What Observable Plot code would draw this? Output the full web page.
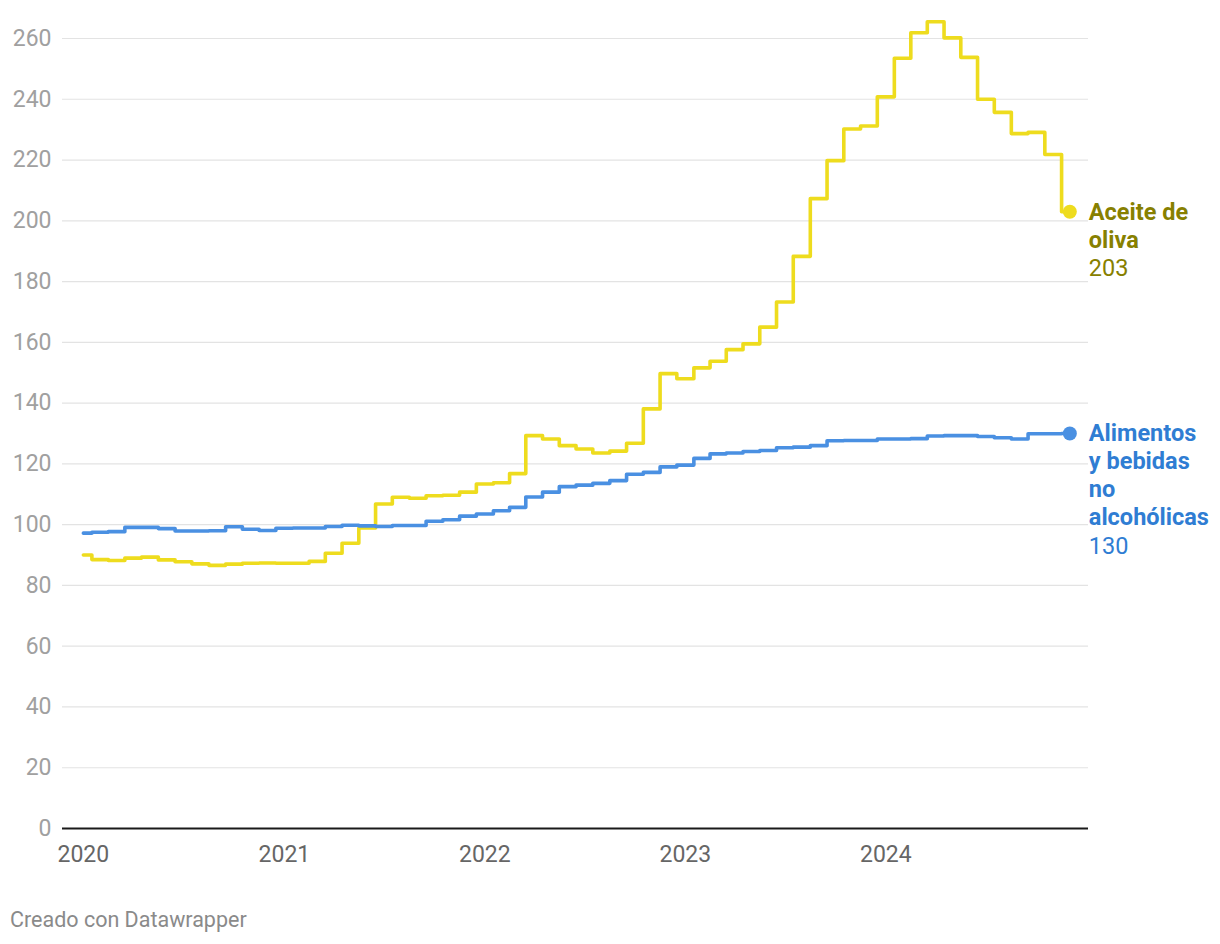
<!DOCTYPE html>
<html>
<head>
<meta charset="utf-8">
<script src="https://cdn.jsdelivr.net/npm/d3@7"></script>
<script src="https://cdn.jsdelivr.net/npm/@observablehq/plot@0.6"></script>
<style>
  html, body { margin: 0; padding: 0; background: #fff; }
  body { width: 1220px; height: 944px; position: relative; font-family: Roboto, "Noto Sans", sans-serif; }
  #chart { position: absolute; left: 0; top: 0; }
  #footer { position: absolute; left: 10px; top: 907px; font-size: 21.5px; color: #8a8a8a; font-family: Roboto, sans-serif; }
</style>
</head>
<body>
<div id="chart"></div>
<div id="footer">Creado con Datawrapper</div>
<script>
const months = [
  "2020-01","2020-02","2020-03","2020-04","2020-05","2020-06","2020-07","2020-08","2020-09","2020-10","2020-11","2020-12",
  "2021-01","2021-02","2021-03","2021-04","2021-05","2021-06","2021-07","2021-08","2021-09","2021-10","2021-11","2021-12",
  "2022-01","2022-02","2022-03","2022-04","2022-05","2022-06","2022-07","2022-08","2022-09","2022-10","2022-11","2022-12",
  "2023-01","2023-02","2023-03","2023-04","2023-05","2023-06","2023-07","2023-08","2023-09","2023-10","2023-11","2023-12",
  "2024-01","2024-02","2024-03","2024-04","2024-05","2024-06","2024-07","2024-08","2024-09","2024-10","2024-11","2024-12"
];
const aceite = [
  90.0, 88.5, 88.2, 89.0, 89.3, 88.4, 87.8, 87.1, 86.6, 87.0, 87.3, 87.4,
  87.3, 87.3, 87.9, 90.6, 93.9, 98.9, 106.8, 109.0, 108.7, 109.5, 109.7, 110.7,
  113.4, 113.8, 116.8, 129.3, 128.2, 126.0, 124.9, 123.6, 124.2, 126.8, 138.1, 149.7,
  148.0, 151.6, 153.8, 157.6, 159.5, 165.0, 173.3, 188.3, 207.3, 219.8, 230.2, 231.2,
  240.8, 253.5, 261.9, 265.5, 260.2, 253.8, 240.0, 235.7, 228.7, 229.1, 221.8, 203.0
];
const alimentos = [
  97.2, 97.5, 97.7, 99.1, 99.1, 98.7, 97.9, 97.9, 98.0, 99.3, 98.5, 98.1,
  98.8, 98.9, 98.9, 99.4, 99.8, 99.6, 99.4, 99.7, 99.7, 101.1, 101.6, 102.8,
  103.5, 104.6, 105.7, 109.1, 110.7, 112.5, 113.0, 113.6, 114.5, 116.6, 117.2, 119.0,
  119.6, 121.8, 123.3, 123.6, 124.1, 124.4, 125.3, 125.5, 126.0, 127.6, 127.7, 127.7,
  128.2, 128.2, 128.3, 129.2, 129.3, 129.3, 129.0, 128.6, 128.2, 129.9, 129.9, 130.0
];
const seriesNames = ["Aceite de oliva", "Alimentos y bebidas no alcohólicas"];
const seriesLabels = ["Aceite de\noliva", "Alimentos\ny bebidas\nno\nalcohólicas"];
const seriesLabelLines = [2, 4];
const seriesValueLabels = ["203", "130"];
const lineColors = ["#eedc1e", "#4a90e2"];
const textColors = ["#878000", "#2f7dd3"];
const yTicks = [0, 20, 40, 60, 80, 100, 120, 140, 160, 180, 200, 220, 240, 260];
const xTickYears = ["2020", "2021", "2022", "2023", "2024"];

const parse = d3.utcParse("%Y-%m");
const dates = months.map(parse);
const data = [];
[aceite, alimentos].forEach((vals, s) => {
  vals.forEach((v, i) => data.push({date: dates[i], value: v, series: seriesNames[s]}));
});
const last = seriesNames.map((name, s) => ({
  date: dates[dates.length - 1],
  value: [aceite, alimentos][s][dates.length - 1],
  label: seriesLabels[s],
  lines: seriesLabelLines[s],
  valueLabel: seriesValueLabels[s],
  color: textColors[s],
  series: name
}));

const xDomain = [d3.utcDay.offset(dates[0], -38), d3.utcDay.offset(dates[dates.length - 1], 34)];
const FS = 23.5, AFS = 23, LH = 28;

const chart = Plot.plot({
  width: 1220,
  height: 880,
  marginLeft: 62,
  marginRight: 132,
  marginTop: 38,
  marginBottom: 52,
  style: {fontFamily: "Roboto, sans-serif", background: "#fff"},
  x: {type: "utc", domain: xDomain, label: null},
  y: {domain: [0, 260], label: null},
  color: {domain: seriesNames, range: lineColors},
  marks: [
    Plot.gridY(yTicks, {stroke: "#e3e3e3", strokeOpacity: 1, strokeWidth: 1.2}),
    Plot.axisY(yTicks, {tickSize: 0, tickPadding: 11, fontSize: AFS, fill: "#a0a0a0", anchor: "left", label: null}),
    Plot.axisX(xTickYears.map(y => d3.utcParse("%Y")(y)), {tickSize: 0, tickPadding: 17, fontSize: AFS, fill: "#666", tickFormat: "%Y", anchor: "bottom", label: null}),
    Plot.ruleY([0], {stroke: "#1a1a1a", strokeWidth: 2}),
    Plot.line(data, {x: "date", y: "value", z: "series", stroke: "series", strokeWidth: 3.6, curve: "step"}),
    Plot.dot(last, {x: "date", y: "value", fill: "series", r: 7}),
    Plot.text(last, {x: "date", y: "value", text: "label", fill: "color", fontSize: FS, fontWeight: "bold",
      textAnchor: "start", lineAnchor: "top", lineHeight: LH / FS, dx: 19, dy: -12}),
    Plot.text(last.filter(d => d.lines === 2), {x: "date", y: "value", text: "valueLabel", fill: "color", fontSize: FS,
      textAnchor: "start", lineAnchor: "top", dx: 19, dy: -8 + 2 * LH}),
    Plot.text(last.filter(d => d.lines === 4), {x: "date", y: "value", text: "valueLabel", fill: "color", fontSize: FS,
      textAnchor: "start", lineAnchor: "top", dx: 19, dy: -8 + 4 * LH})
  ]
});
document.getElementById("chart").appendChild(chart);
</script>
</body>
</html>
